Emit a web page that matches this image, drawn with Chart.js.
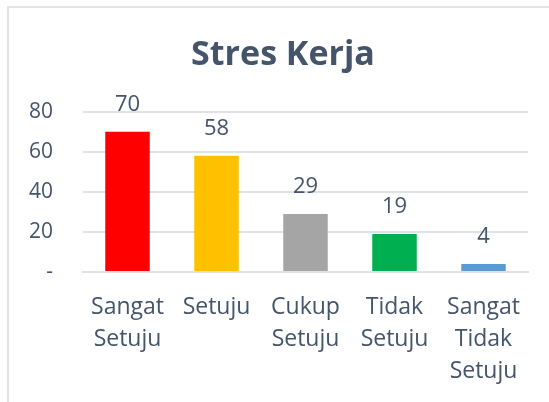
<!DOCTYPE html>
<html>
<head>
<meta charset="utf-8">
<script src="https://cdn.jsdelivr.net/npm/chart.js@4"></script>
<style>
    html, body { margin: 0; padding: 0; background: #ffffff; overflow: hidden; }
    #frame {
        position: absolute; left: 7px; top: 6px; width: 600px; height: 450px;
        border-top: 2px solid #E1E5EA; border-left: 2px solid #E1E5EA;
    }
    #stressChart { position: absolute; left: 0; top: 0; }
</style>
</head>
<body>
<div id="frame"></div>
<canvas id="stressChart" width="549" height="402"></canvas>
<script>
const categories = [
    ['Sangat', 'Setuju'],
    ['Setuju'],
    ['Cukup', 'Setuju'],
    ['Tidak', 'Setuju'],
    ['Sangat', 'Tidak', 'Setuju']
];
const counts = [70, 58, 29, 19, 4];
const barColors = ['#FF0000', '#FFC000', '#A5A5A5', '#00B050', '#5B9BD5'];
const yTickLabels = ['-', '20', '40', '60', '80'];

const textColor = '#44546A';
const gridColor = '#DFE3E8';
const fontFamily = '"Open Sans", sans-serif';

// draws the value above each bar (no datalabels plugin available)
const valueLabels = {
    id: 'valueLabels',
    afterDatasetsDraw(chart) {
        const ctx = chart.ctx;
        const meta = chart.getDatasetMeta(0);
        ctx.save();
        ctx.font = '22px ' + fontFamily;
        ctx.fillStyle = textColor;
        ctx.textAlign = 'center';
        ctx.textBaseline = 'middle';
        meta.data.forEach(function(bar, i) {
            ctx.fillText(String(counts[i]), bar.x, bar.y - 27);
        });
        ctx.restore();
    }
};

// the original title sits a bit right of the canvas centre
const titleShift = {
    id: 'titleShift',
    afterLayout(chart) {
        if (chart.titleBlock) {
            chart.titleBlock.left += 38;
        }
    }
};

const ctx = document.getElementById('stressChart').getContext('2d');
const stressChart = new Chart(ctx, {
    type: 'bar',
    data: {
        labels: categories,
        datasets: [{
            label: 'Stres Kerja',
            data: counts,
            backgroundColor: barColors,
            borderWidth: 0,
            categoryPercentage: 1,
            barPercentage: 0.5
        }]
    },
    options: {
        responsive: false,
        animation: false,
        layout: {
            padding: { top: 0, right: 21, bottom: 0, left: 0 }
        },
        plugins: {
            legend: { display: false },
            tooltip: { enabled: false },
            title: {
                display: true,
                text: 'Stres Kerja',
                color: textColor,
                font: { family: fontFamily, size: 34, weight: 'bold', lineHeight: 1.2 },
                padding: { top: 35, bottom: 36 }
            }
        },
        scales: {
            x: {
                afterFit: function(scale) { scale.height = 130; },
                grid: { display: false, drawTicks: false },
                border: { display: true, color: gridColor, width: 2 },
                ticks: {
                    color: textColor,
                    font: { family: fontFamily, size: 23, lineHeight: 1.4 },
                    padding: 19,
                    maxRotation: 0,
                    autoSkip: false
                }
            },
            y: {
                min: 0,
                max: 80,
                afterFit: function(scale) { scale.width = 83; },
                grid: { color: gridColor, lineWidth: 2, drawTicks: false },
                border: { display: false },
                ticks: {
                    stepSize: 20,
                    color: textColor,
                    font: { family: fontFamily, size: 21 },
                    padding: 30,
                    callback: function(value) {
                        return yTickLabels[value / 20];
                    }
                }
            }
        }
    },
    plugins: [valueLabels, titleShift]
});
</script>
</body>
</html>
